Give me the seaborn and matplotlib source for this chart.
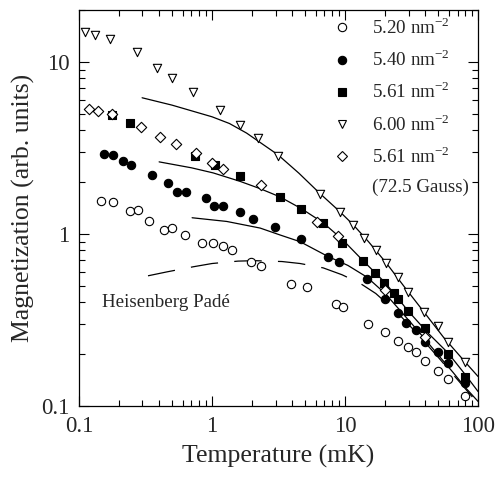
import matplotlib
matplotlib.use('Agg')
import matplotlib.pyplot as plt
import seaborn as sns
from matplotlib.lines import Line2D

# 5.20 nm^-2 (open circles)
t_520 = [0.146, 0.180, 0.241, 0.278, 0.336, 0.435, 0.50, 0.627, 0.842, 1.02, 1.21, 1.41,
         1.96, 2.34, 3.93, 5.18, 8.55, 9.66, 14.9, 20.0, 25.0, 29.8, 34.2, 40.0, 50.0, 59.5, 79.8]
m_520 = [1.56, 1.53, 1.36, 1.38, 1.19, 1.05, 1.08, 0.987, 0.887, 0.887, 0.851, 0.807,
         0.687, 0.652, 0.512, 0.492, 0.392, 0.377, 0.300, 0.269, 0.239, 0.220, 0.206, 0.183, 0.160, 0.144, 0.114]

# 5.40 nm^-2 (filled circles)
t_540 = [0.154, 0.180, 0.214, 0.246, 0.354, 0.467, 0.546, 0.638, 0.902, 1.04, 1.21, 1.62, 2.03,
         2.98, 4.67, 7.45, 9.02, 14.6, 20.0, 25.0, 28.8, 34.2, 40.0, 50.0, 59.5, 79.8]
m_540 = [2.92, 2.88, 2.66, 2.52, 2.20, 1.98, 1.75, 1.75, 1.62, 1.45, 1.45, 1.34, 1.22,
         1.10, 0.935, 0.735, 0.687, 0.547, 0.419, 0.347, 0.304, 0.277, 0.236, 0.206, 0.178, 0.136]

# 5.61 nm^-2 (filled squares)
t_561 = [0.177, 0.241, 0.745, 1.05, 1.62, 3.25, 4.67, 6.84, 9.49, 13.6, 16.8, 19.6, 23.4,
         25.0, 29.8, 40.0, 59.5, 79.8]
m_561 = [4.92, 4.42, 2.84, 2.52, 2.17, 1.64, 1.40, 1.16, 0.887, 0.697, 0.593, 0.519, 0.454,
         0.419, 0.356, 0.284, 0.200, 0.148]

# 6.00 nm^-2 (open down triangles)
t_600 = [0.111, 0.132, 0.171, 0.273, 0.386, 0.50, 0.72, 1.15, 1.62, 2.22, 3.13, 6.5, 9.2,
         11.5, 13.9, 17.1, 20.3, 25.0, 29.8, 39.3, 50.0, 59.4, 79.8]
m_600 = [14.9, 14.4, 13.6, 11.4, 9.2, 8.07, 6.7, 5.26, 4.3, 3.6, 2.84, 1.71, 1.34,
         1.13, 0.95, 0.81, 0.68, 0.56, 0.46, 0.35, 0.29, 0.235, 0.18]

# 5.61 nm^-2 at 72.5 Gauss (open diamonds)
t_561g = [0.119, 0.139, 0.177, 0.292, 0.406, 0.536, 0.759, 1.0, 1.21, 2.34, 6.16, 8.86, 20.0, 40.0]
m_561g = [5.33, 5.19, 4.99, 4.19, 3.66, 3.33, 2.96, 2.59, 2.39, 1.93, 1.17, 0.973, 0.472, 0.252]

# theory curves
fit_600_t = [0.298, 0.5, 1.0, 1.35, 1.82, 3.13, 4.5, 6.5, 9.0, 11.5, 15.0, 20.3, 28.0, 39.3, 55.0, 79.8, 100]
fit_600_m = [6.18, 5.6, 4.79, 4.38, 3.85, 2.88, 2.25, 1.71, 1.36, 1.13, 0.90, 0.68, 0.49, 0.35, 0.25, 0.18, 0.148]
fit_561_t = [0.40, 0.7, 1.02, 1.62, 2.3, 3.24, 4.7, 6.84, 9.5, 13.6, 20.0, 29.8, 42.0, 59.4, 80.0, 100]
fit_561_m = [2.62, 2.42, 2.26, 2.02, 1.83, 1.64, 1.40, 1.16, 0.93, 0.70, 0.52, 0.356, 0.265, 0.203, 0.152, 0.121]
fit_540_t = [0.708, 1.29, 2.30, 3.24, 4.59, 7.45, 10.5, 14.6, 20.0, 25.0, 35.0, 50.0, 65.0, 80.0, 100]
fit_540_m = [1.24, 1.18, 1.08, 0.985, 0.90, 0.738, 0.655, 0.56, 0.45, 0.37, 0.275, 0.198, 0.156, 0.128, 0.106]
pade_t = [0.330, 0.459, 0.72, 1.0, 1.57, 2.1, 3.36, 4.59, 6.84, 9.49, 13.0, 17.0, 25.0, 35.0, 50.0, 70.0, 100]
pade_m = [0.570, 0.601, 0.643, 0.672, 0.694, 0.698, 0.690, 0.672, 0.634, 0.578, 0.515, 0.45,
          0.345, 0.262, 0.192, 0.142, 0.103]

sns.set_theme(style="ticks")
plt.rcParams['font.family'] = ['Liberation Serif', 'DejaVu Serif']
plt.rcParams['mathtext.fontset'] = 'custom'
plt.rcParams['mathtext.rm'] = 'Liberation Serif'

fig, ax = plt.subplots(figsize=(4.97, 4.78), dpi=100)
fig.subplots_adjust(left=0.159, right=0.962, bottom=0.151, top=0.979)

lw = 0.9
sns.lineplot(x=fit_600_t, y=fit_600_m, color='black', lw=lw, sort=False, estimator=None, ax=ax)
sns.lineplot(x=fit_561_t, y=fit_561_m, color='black', lw=lw, sort=False, estimator=None, ax=ax)
sns.lineplot(x=fit_540_t, y=fit_540_m, color='black', lw=lw, sort=False, estimator=None, ax=ax)
sns.lineplot(x=pade_t, y=pade_m, color='black', lw=lw, sort=False, estimator=None, ax=ax,
             linestyle=(0, (22, 13)))

ms = 36
sns.scatterplot(x=t_520, y=m_520, marker='o', s=ms, color='white', edgecolor='black', linewidth=0.8, ax=ax, zorder=3)
sns.scatterplot(x=t_540, y=m_540, marker='o', s=ms, color='black', edgecolor='black', linewidth=0.8, ax=ax, zorder=3)
sns.scatterplot(x=t_561, y=m_561, marker='s', s=ms, color='black', edgecolor='black', linewidth=0.8, ax=ax, zorder=3)
sns.scatterplot(x=t_600, y=m_600, marker='v', s=ms, color='white', edgecolor='black', linewidth=0.8, ax=ax, zorder=3)
sns.scatterplot(x=t_561g, y=m_561g, marker='D', s=28, color='white', edgecolor='black', linewidth=0.8, ax=ax, zorder=4)

ax.set_xscale('log')
ax.set_yscale('log')
ax.set_xlim(0.1, 100)
ax.set_ylim(0.1, 20)
ax.set_xticks([0.1, 1, 10, 100])
ax.set_xticklabels(['0.1', '1', '10', '100'])
ax.set_yticks([0.1, 1, 10])
ax.set_yticklabels(['0.1', '1', '10'])
ax.tick_params(which='both', direction='in', top=True, right=True, width=0.8, color='black')
ax.tick_params(which='major', length=7, labelsize=16.5, pad=7)
ax.tick_params(which='minor', length=4)
for s in ax.spines.values():
    s.set_linewidth(0.9)
    s.set_color('black')

ax.set_xlabel('Temperature (mK)', fontsize=18.5, labelpad=6)
ax.set_ylabel('Magnetization (arb. units)', fontsize=18.5, labelpad=4)

ax.text(0.149, 0.40, 'Heisenberg Padé', fontsize=13.7, ha='left', va='center')

def mk(marker, fc, size=6):
    return Line2D([], [], ls='none', marker=marker, markersize=size, markerfacecolor=fc,
                  markeredgecolor='black', markeredgewidth=0.8)

handles = [mk('o', 'white'), mk('o', 'black'), mk('s', 'black'), mk('v', 'white'),
           mk('D', 'white', 5.3), Line2D([], [], ls='none')]
labels = ['5.20 nm$^{-2}$', '5.40 nm$^{-2}$', '5.61 nm$^{-2}$', '6.00 nm$^{-2}$',
          '5.61 nm$^{-2}$', '(72.5 Gauss)']
ax.legend(handles, labels, loc='upper left', bbox_to_anchor=(0.634, 0.982), frameon=False,
          fontsize=13.7, handlelength=1.0, handletextpad=1.1, labelspacing=0.6, borderpad=0,
          borderaxespad=0)

fig.savefig('out.png', dpi=100)
